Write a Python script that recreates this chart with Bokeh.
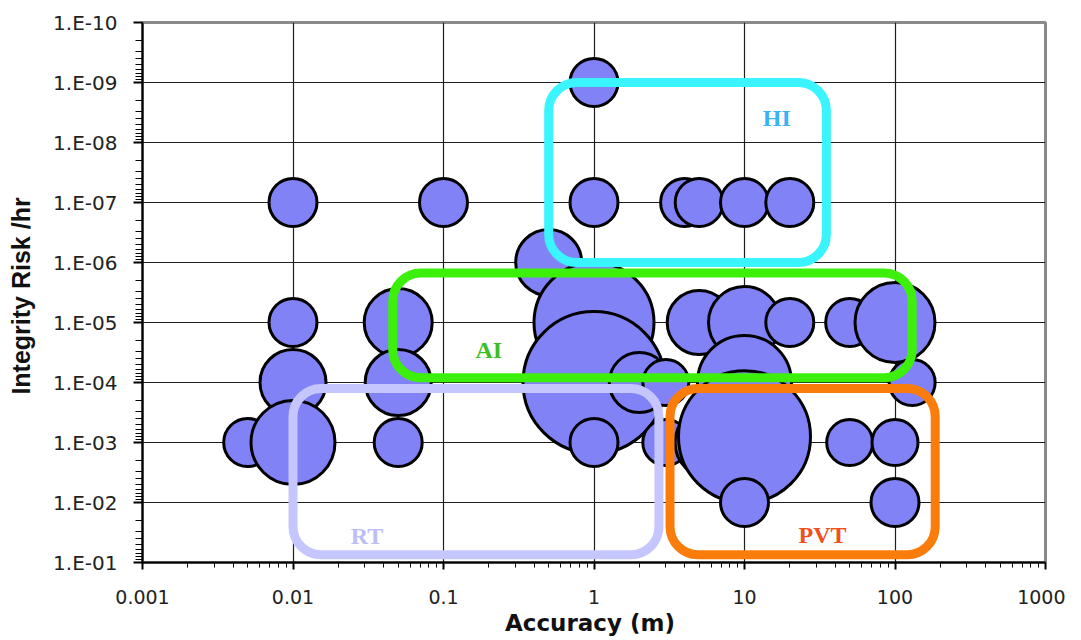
from bokeh.plotting import figure
from bokeh.models import (ColumnDataSource, Range1d, FixedTicker, CustomJSTickFormatter,
                          BoxAnnotation)
from bokeh.core.properties import value
from bokeh.embed import file_html
from bokeh.resources import INLINE

# ---------------- data ----------------
# bubbles (accuracy [m], integrity risk [/hr], bubble diameter)
acc = [1,
       0.01, 0.1, 1, 4, 5, 10, 20,
       0.5,
       0.01, 0.05, 1, 5, 10, 20, 50, 100,
       0.01, 0.05, 1, 2, 3, 10, 130,
       0.005, 0.01, 0.05, 1, 3, 6, 10, 50, 100,
       10, 100]
risk = [1e-9,
        1e-7, 1e-7, 1e-7, 1e-7, 1e-7, 1e-7, 1e-7,
        1e-6,
        1e-5, 1e-5, 1e-5, 1e-5, 1e-5, 1e-5, 1e-5, 1e-5,
        1e-4, 1e-4, 1e-4, 1e-4, 1e-4, 1e-4, 1e-4,
        1e-3, 1e-3, 1e-3, 1e-3, 1e-3, 1e-3, 8e-4, 1e-3, 1e-3,
        1e-2, 1e-2]
bubble_size = [48,
               48, 48, 48, 48, 48, 48, 48,
               66,
               48, 68, 120, 64, 72, 48, 48, 80,
               66, 66, 142, 60, 46, 94, 46,
               48, 84, 48, 48, 46, 72, 132, 46, 46,
               48, 48]

# application regions
region_names = ["HI", "AI", "RT", "PVT"]
region_acc_min = [0.5, 0.046, 0.01, 3.2]
region_acc_max = [35, 130, 2.7, 185]
region_risk_low = [1e-9, 1.5e-6, 1.26e-4, 1.26e-4]
region_risk_high = [1e-6, 8.3e-5, 0.074, 0.074]
region_label_acc = [16.4, 0.2, 0.031, 33]
region_label_risk = [3.9e-9, 2.9e-5, 0.036, 0.035]
region_line_colors = ["#3AF4FF", "#3CF00C", "#C6C6FF", "#FA7C0A"]
region_text_colors = ["#38B4F6", "#3EBE22", "#BDBDF8", "#F0501A"]

x_ticks = [0.001, 0.01, 0.1, 1, 10, 100, 1000]
y_ticks = [1e-10, 1e-9, 1e-8, 1e-7, 1e-6, 1e-5, 1e-4, 1e-3, 1e-2, 1e-1]

# ---------------- figure ----------------
p = figure(width=1065, height=638, x_axis_type="log", y_axis_type="log",
           x_range=Range1d(0.001, 1000), y_range=Range1d(0.1, 1e-10),
           output_backend="svg", toolbar_location=None,
           min_border_left=142, min_border_right=20,
           min_border_top=22, min_border_bottom=75)
p.background_fill_color = "white"
p.border_fill_color = "white"
p.outline_line_color = "#8a8a8a"
p.outline_line_width = 3

x_minor = [m * 10.0 ** e for e in range(-3, 3) for m in range(2, 10)]
y_minor = [m * 10.0 ** e for e in range(-10, -1) for m in range(2, 10)]
p.xaxis.ticker = FixedTicker(ticks=x_ticks, minor_ticks=x_minor)
p.yaxis.ticker = FixedTicker(ticks=y_ticks, minor_ticks=y_minor)

p.xaxis.formatter = CustomJSTickFormatter(code="""
    if (tick >= 1) { return tick.toFixed(0); }
    return parseFloat(tick.toPrecision(1)).toString();
""")
p.yaxis.formatter = CustomJSTickFormatter(code="""
    const e = Math.round(Math.log10(tick));
    const a = Math.abs(e);
    return '1.E' + (e < 0 ? '-' : '+') + (a < 10 ? '0' : '') + a;
""")

for ax in (p.xaxis[0], p.yaxis[0]):
    ax.axis_line_color = "black"
    ax.axis_line_width = 2
    ax.major_tick_line_color = "black"
    ax.major_tick_line_width = 2
    ax.minor_tick_line_color = "black"
    ax.minor_tick_line_width = 1
    ax.major_tick_in = 0
    ax.minor_tick_in = 0
    ax.major_label_text_font = "DejaVu Sans"
    ax.major_label_text_color = "#222222"
    ax.axis_label_text_color = "#111111"
    ax.axis_label_text_font_style = "bold"

p.xaxis.major_tick_out = 7
p.xaxis.minor_tick_out = 5
p.xaxis.major_label_text_font_size = "19px"
p.xaxis.major_label_standoff = 20
p.xaxis.axis_label = "Accuracy  (m)"
p.xaxis.axis_label_text_font = "DejaVu Sans"
p.xaxis.axis_label_text_font_size = "23px"
p.xaxis.axis_label_standoff = 3

p.yaxis.major_tick_out = 9
p.yaxis.minor_tick_out = 7
p.yaxis.major_label_text_font_size = "20px"
p.yaxis.major_label_standoff = 16
p.yaxis.axis_label = "Integrity Risk  /hr"
p.yaxis.axis_label_text_font = "Liberation Sans"
p.yaxis.axis_label_text_font_size = "25px"
p.yaxis.axis_label_standoff = 15

p.xgrid.grid_line_color = "#1e1e1e"
p.ygrid.grid_line_color = "#1e1e1e"
p.xgrid.grid_line_width = 1.2
p.ygrid.grid_line_width = 1.2

# bubbles
src = ColumnDataSource(dict(x=acc, y=risk, d=bubble_size))
p.scatter(x="x", y="y", size="d", marker="circle", source=src,
          fill_color="#8282F7", line_color="black", line_width=3)

# region boxes
for i in range(len(region_names)):
    p.add_layout(BoxAnnotation(left=region_acc_min[i], right=region_acc_max[i],
                               top=region_risk_low[i], bottom=region_risk_high[i],
                               fill_color=None, fill_alpha=0,
                               line_color=region_line_colors[i], line_alpha=1.0,
                               line_width=9, border_radius=28))

lsrc = ColumnDataSource(dict(x=region_label_acc, y=region_label_risk,
                             t=region_names, c=region_text_colors))
p.text(x="x", y="y", text="t", source=lsrc, text_color="c",
       text_font=value("Liberation Serif"), text_font_style="bold",
       text_font_size="24px", text_align="center", text_baseline="middle")

open("out.html", "w").write(file_html(p, INLINE))
